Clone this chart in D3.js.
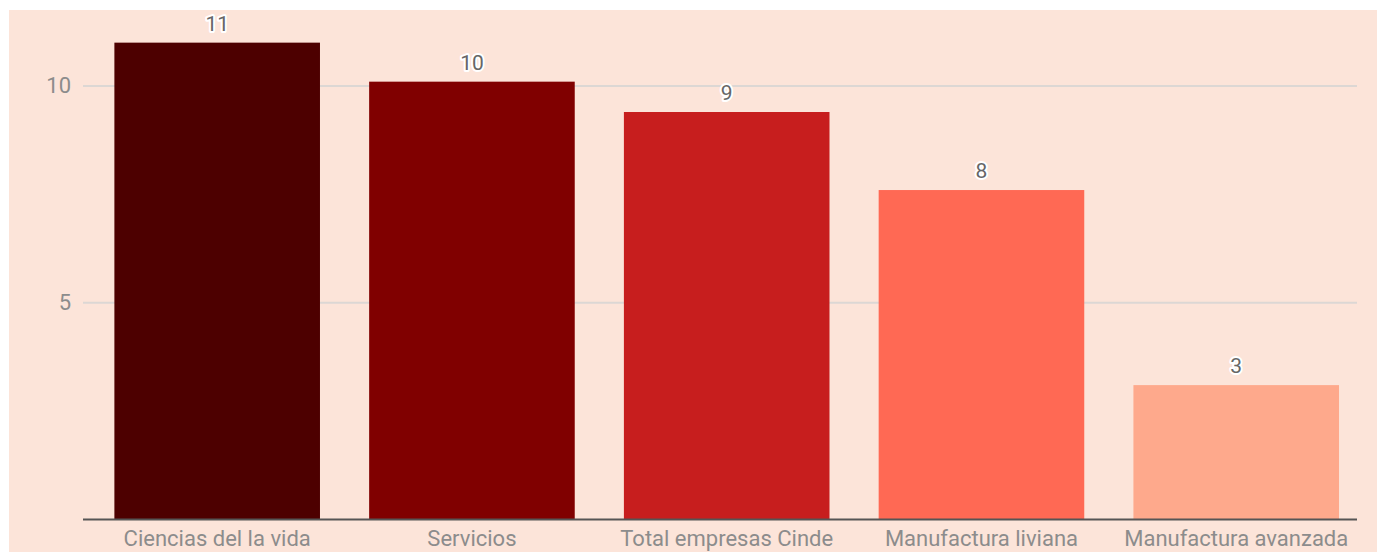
<!DOCTYPE html>
<html>
<head>
<meta charset="utf-8">
<script src="https://cdn.jsdelivr.net/npm/d3@7"></script>
<style>
  html, body { margin: 0; padding: 0; background: #fff; }
  svg { display: block; font-family: Roboto, "Noto Sans", sans-serif; }
</style>
</head>
<body>
<svg id="chart"></svg>
<script>
// categories and values
var categories = ['Ciencias del la vida', 'Servicios', 'Total empresas Cinde', 'Manufactura liviana', 'Manufactura avanzada'];
var values = [11.0, 10.1, 9.4, 7.6, 3.1];
var colors = ['#4d0000', '#800000', '#c71e1e', '#ff6954', '#fea98c'];
var yTicks = [5, 10];

var width = 1377,
    height = 552;

var svg = d3.select('#chart')
    .attr('width', width)
    .attr('height', height);

// peach panel
svg.append('rect')
    .attr('x', 9)
    .attr('y', 10)
    .attr('width', width - 9)
    .attr('height', height - 10)
    .attr('fill', '#fce4d9');

var y = d3.scaleLinear()
    .domain([0, 10])
    .range([519.5, 86]);

var x = d3.scaleBand()
    .domain(categories)
    .range([89.8, 1363.6])
    .paddingInner(0.193)
    .paddingOuter(0.0965);

// gridlines + tick labels
svg.append('g')
    .selectAll('line')
    .data(yTicks)
    .join('line')
    .attr('x1', 83)
    .attr('x2', 1357)
    .attr('y1', function(d) { return y(d) })
    .attr('y2', function(d) { return y(d) })
    .attr('stroke', '#dcd7d4')
    .attr('stroke-width', 2);

svg.append('g')
    .selectAll('text')
    .data(yTicks)
    .join('text')
    .attr('x', 71)
    .attr('y', function(d) { return y(d) + 7 })
    .attr('text-anchor', 'end')
    .attr('fill', '#8c8c8c')
    .style('font-size', '22px')
    .text(function(d) { return d });

// bars
svg.append('g')
    .selectAll('rect')
    .data(values)
    .join('rect')
    .attr('x', function(d, i) { return x(categories[i]) })
    .attr('y', function(d) { return y(d) })
    .attr('width', x.bandwidth())
    .attr('height', function(d) { return y(0) - y(d) })
    .attr('fill', function(d, i) { return colors[i] });

// baseline
svg.append('line')
    .attr('x1', 83)
    .attr('x2', 1357)
    .attr('y1', y(0))
    .attr('y2', y(0))
    .attr('stroke', '#555')
    .attr('stroke-width', 2);

// value labels with white halo
svg.append('g')
    .selectAll('text')
    .data(values)
    .join('text')
    .attr('x', function(d, i) { return x(categories[i]) + x.bandwidth() / 2 })
    .attr('y', function(d) { return y(d) - 12 })
    .attr('text-anchor', 'middle')
    .attr('fill', '#666')
    .attr('stroke', '#fff')
    .attr('stroke-width', 4)
    .attr('stroke-linejoin', 'round')
    .attr('paint-order', 'stroke')
    .style('font-size', '21px')
    .text(function(d) { return d3.format('.0f')(d) });

// category labels
svg.append('g')
    .selectAll('text')
    .data(categories)
    .join('text')
    .attr('x', function(d) { return x(d) + x.bandwidth() / 2 })
    .attr('y', 546)
    .attr('text-anchor', 'middle')
    .attr('fill', '#8c8c8c')
    .style('font-size', '22px')
    .text(function(d) { return d });
</script>
</body>
</html>
